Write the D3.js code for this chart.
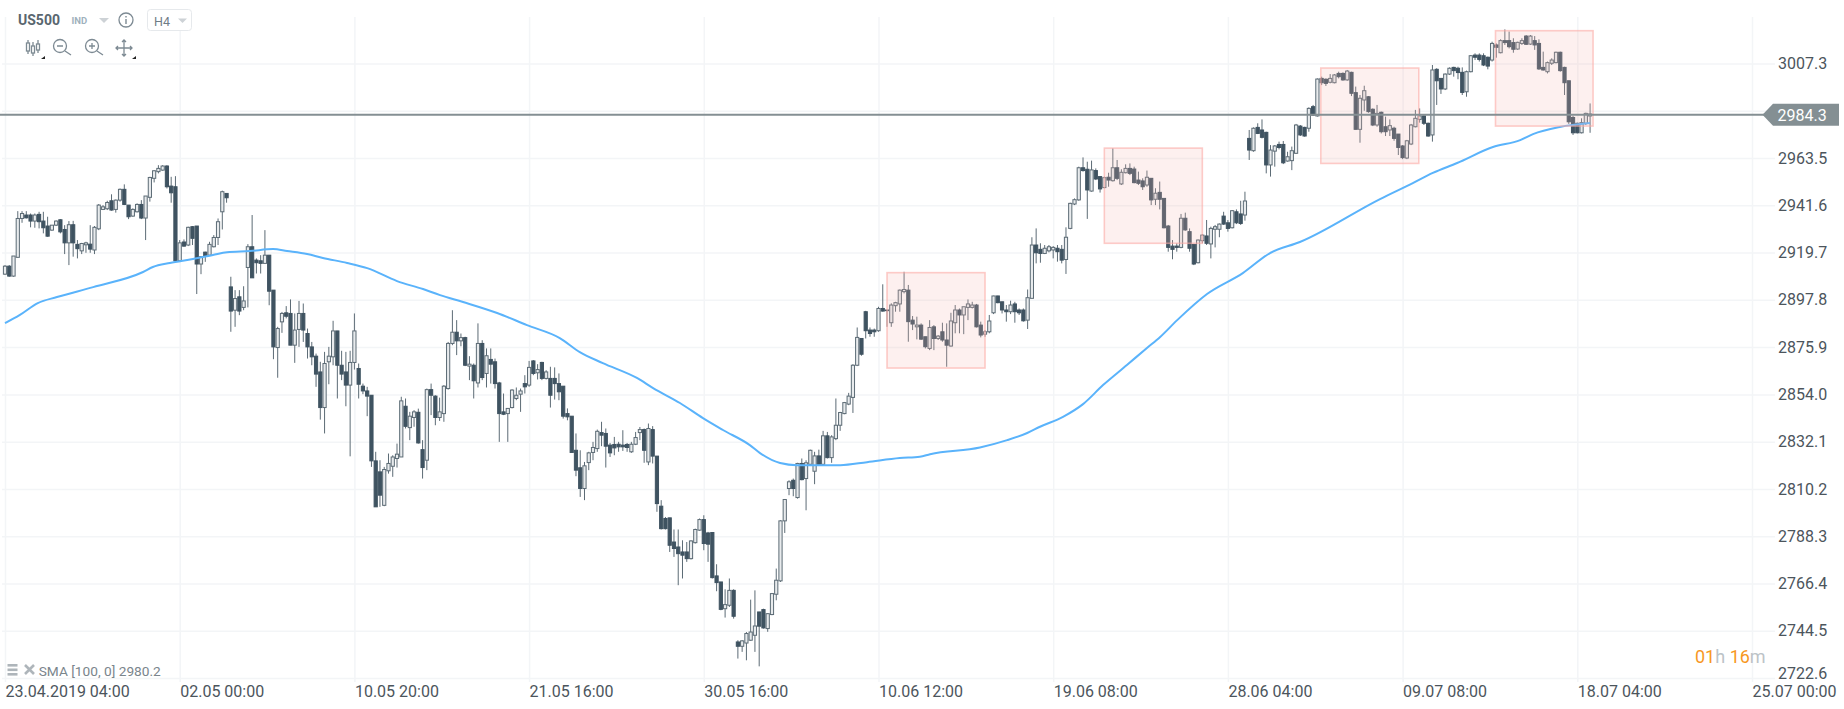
<!DOCTYPE html>
<html>
<head>
<meta charset="utf-8">
<title>US500 H4</title>
<script src="https://cdn.jsdelivr.net/npm/d3@7"></script>
<style>
    html, body { margin: 0; padding: 0; background: #fff; overflow: hidden; }
    text { font-family: Roboto, sans-serif; }
</style>
</head>
<body>
<svg id="chart" width="1844" height="709"></svg>
<script>
// candle values, one entry per H4 bar
var opens = [
2909.7,2913.4,2908.8,2917.5,2935.5,2937.1,2937.1,2934.3,2937.4,2934.3,
2932.0,2930.1,2932.4,2934.9,2930.4,2924.2,2932.6,2923.5,2920.5,2923.3,
2923.6,2920.9,2930.7,2939.7,2940.0,2943.7,2939.7,2944.0,2949.0,2941.7,
2936.6,2938.6,2942.0,2935.7,2945.3,2954.1,2957.2,2957.9,2959.8,2950.5,
2950.2,2915.9,2924.6,2923.2,2931.7,2932.0,2914.4,2919.9,2918.5,2922.4,
2926.7,2938.6,2947.1,2903.8,2893.0,2899.2,2894.3,2912.8,2922.4,2916.2,
2915.9,2914.7,2918.5,2902.3,2875.7,2887.6,2891.8,2891.5,2876.8,2884.1,
2891.5,2882.2,2876.0,2871.7,2864.4,2847.9,2869.1,2871.4,2883.4,2867.5,
2864.4,2858.3,2868.8,2866.0,2857.8,2855.6,2853.6,2823.2,2818.1,2802.6,
2818.6,2820.7,2824.3,2825.0,2848.5,2838.6,2843.3,2845.7,2828.4,2823.5,
2856.2,2853.2,2843.3,2845.1,2856.7,2877.6,2882.8,2878.8,2880.3,2867.1,
2867.5,2859.3,2877.6,2863.7,2870.2,2869.1,2859.3,2845.9,2845.1,2847.9,
2852.1,2854.1,2859.0,2858.3,2869.5,2864.0,2868.8,2861.4,2861.4,2861.4,
2859.0,2857.8,2845.1,2843.9,2828.1,2820.0,2810.4,2822.4,2827.1,2828.9,
2836.3,2835.9,2830.5,2830.8,2830.9,2830.5,2830.8,2827.4,2830.9,2836.3,
2837.7,2822.7,2837.7,2825.4,2802.2,2796.5,2796.8,2785.6,2783.3,2781.0,
2781.0,2777.9,2785.3,2791.1,2796.0,2789.8,2790.0,2769.9,2767.1,2754.7,
2756.3,2763.2,2739.3,2737.3,2738.8,2740.1,2742.4,2753.2,2754.3,2745.5,
2752.0,2761.4,2767.6,2795.4,2810.4,2814.2,2806.2,2822.0,2815.0,2821.6,
2818.4,2825.5,2821.6,2834.8,2824.7,2833.5,2839.7,2845.1,2849.5,2852.6,
2867.5,2879.9,2892.3,2883.8,2883.8,2883.5,2893.8,2893.1,2887.2,2895.1,
2895.9,2901.6,2902.3,2888.4,2885.3,2886.1,2880.7,2875.3,2885.3,2879.9,
2883.0,2879.2,2876.4,2887.2,2893.1,2890.8,2894.3,2894.3,2895.4,2886.1,
2881.9,2883.0,2891.8,2899.6,2896.9,2893.1,2892.3,2895.9,2893.1,2893.1,
2888.4,2898.5,2923.2,2921.2,2919.3,2920.5,2920.9,2921.7,2921.2,2916.5,
2930.9,2942.2,2944.1,2959.0,2958.3,2948.2,2957.7,2954.9,2949.8,2954.6,
2953.0,2959.0,2951.5,2956.7,2958.7,2958.4,2953.3,2952.9,2951.0,2954.1,
2944.4,2947.6,2944.8,2932.0,2922.7,2922.7,2922.1,2935.6,2929.4,2923.5,
2915.0,2925.2,2927.4,2923.7,2930.5,2930.5,2936.6,2933.5,2931.2,2938.6,
2937.6,2937.1,2972.6,2966.9,2977.7,2976.5,2975.4,2960.3,2966.7,2969.8,
2969.8,2962.1,2962.3,2965.7,2978.3,2977.7,2977.3,2987.3,2983.0,3000.4,
3000.0,2998.6,2998.4,3002.7,3002.7,2999.7,3003.2,2993.8,2976.8,2990.4,
2991.9,2986.1,2978.8,2984.7,2978.0,2976.5,2977.3,2974.6,2969.1,2963.5,
2970.0,2978.0,2981.4,2983.0,2979.6,2974.2,3004.6,3000.4,2995.5,3002.4,
3005.5,3005.1,3003.2,2994.2,3003.5,3011.2,3011.2,3010.9,3010.2,3008.9,
3015.9,3012.3,3017.9,3017.9,3017.0,3014.0,3016.6,3020.0,3016.3,3017.9,
3016.6,3005.5,3003.5,3007.4,3007.7,3012.5,3005.5,2999.3,2982.3,2979.6,
2975.2,2979.6,2983.0];
var highs = [
2913.9,2913.9,2918.1,2938.9,2938.9,2938.9,2937.8,2937.8,2938.6,2938.6,
2936.3,2932.4,2934.6,2935.2,2932.4,2934.3,2934.4,2925.5,2924.2,2924.7,
2932.4,2932.0,2942.2,2941.7,2943.7,2946.7,2944.3,2949.4,2951.3,2941.7,
2940.2,2942.5,2944.0,2945.9,2954.8,2957.9,2960.2,2960.2,2960.2,2954.8,
2955.1,2925.5,2925.8,2931.7,2932.0,2932.0,2918.1,2920.1,2924.7,2927.8,
2935.5,2948.4,2947.1,2908.5,2902.3,2902.3,2904.1,2923.6,2937.1,2917.0,
2918.5,2930.1,2918.5,2902.3,2885.3,2892.2,2894.9,2898.0,2891.5,2897.3,
2896.1,2884.5,2878.3,2872.9,2869.1,2873.7,2876.0,2888.1,2883.4,2874.2,
2873.7,2874.2,2891.5,2868.3,2859.0,2857.5,2853.6,2827.4,2823.5,2820.4,
2826.6,2825.8,2831.2,2852.9,2852.1,2845.9,2846.7,2847.4,2832.8,2856.7,
2859.0,2853.6,2852.5,2858.3,2878.3,2893.0,2888.4,2882.2,2880.7,2871.7,
2868.3,2886.9,2879.1,2875.3,2875.3,2870.6,2859.8,2854.4,2847.5,2856.4,
2857.2,2856.7,2862.9,2869.5,2869.9,2868.0,2869.1,2865.2,2866.8,2866.5,
2863.7,2857.8,2847.5,2843.9,2835.9,2828.1,2822.7,2827.4,2832.0,2837.7,
2841.3,2838.2,2831.5,2834.3,2832.0,2837.4,2831.5,2832.0,2836.6,2838.9,
2838.2,2840.5,2839.3,2825.4,2805.0,2797.2,2796.8,2791.4,2791.4,2786.4,
2785.6,2786.4,2791.8,2796.5,2798.0,2790.3,2790.0,2775.3,2767.1,2763.7,
2768.7,2763.7,2740.1,2740.1,2743.9,2758.9,2763.2,2753.2,2754.7,2752.7,
2762.0,2773.3,2795.7,2805.3,2814.2,2815.0,2822.3,2824.3,2823.5,2828.4,
2827.4,2828.4,2837.1,2836.6,2835.1,2852.1,2845.9,2850.5,2854.7,2868.0,
2885.0,2879.9,2892.7,2885.0,2884.5,2894.6,2905.0,2893.1,2896.2,2896.9,
2902.6,2910.8,2904.7,2890.3,2890.0,2886.9,2880.7,2888.4,2886.1,2881.5,
2887.2,2886.9,2891.8,2895.4,2893.8,2894.6,2898.0,2896.9,2895.9,2887.7,
2883.8,2890.8,2899.7,2899.7,2896.9,2895.4,2897.4,2896.9,2893.8,2893.8,
2902.6,2926.8,2930.9,2924.0,2923.2,2923.2,2922.7,2923.2,2923.2,2931.4,
2942.8,2944.8,2959.5,2963.8,2961.8,2962.3,2958.7,2954.9,2954.9,2956.7,
2968.0,2962.6,2958.3,2960.6,2961.0,2959.5,2957.2,2954.1,2957.7,2954.1,
2949.5,2952.6,2944.8,2932.5,2925.5,2924.0,2937.6,2938.2,2930.9,2923.7,
2925.8,2928.3,2934.8,2931.7,2932.5,2933.2,2938.6,2934.8,2939.4,2939.7,
2943.7,2947.9,2976.5,2977.7,2979.6,2981.4,2975.7,2969.5,2969.5,2971.1,
2971.4,2966.4,2968.8,2979.3,2978.8,2978.0,2987.0,2988.1,3000.4,3001.2,
3000.4,3002.4,3002.4,3003.5,3003.2,3004.3,3003.5,2996.6,2992.7,2997.0,
2992.2,2986.5,2988.1,2985.0,2982.7,2981.4,2978.0,2974.6,2969.5,2971.9,
2979.3,2985.8,2986.5,2983.3,2979.9,3006.6,3005.1,3000.4,3002.7,3005.5,
3005.8,3005.8,3005.5,3004.0,3011.2,3012.0,3012.0,3012.0,3010.5,3017.4,
3016.6,3018.5,3023.1,3022.1,3019.0,3017.4,3019.0,3020.5,3020.5,3020.0,
3018.5,3012.8,3008.2,3009.7,3012.8,3012.8,3005.8,2999.3,2983.0,2979.9,
2981.9,2984.5,2988.8];
var lows = [
2909.4,2908.5,2908.5,2917.5,2933.5,2935.5,2931.4,2931.2,2930.9,2928.6,
2927.0,2929.8,2932.0,2928.6,2919.0,2913.9,2917.8,2917.0,2919.0,2919.6,
2919.6,2919.0,2930.1,2939.4,2939.4,2939.1,2938.2,2943.3,2941.7,2935.2,
2936.3,2938.3,2935.2,2925.5,2943.3,2952.2,2956.4,2957.6,2949.4,2942.8,
2915.9,2915.4,2922.4,2922.7,2923.2,2900.5,2909.7,2915.4,2918.1,2922.1,
2923.2,2930.4,2942.8,2883.0,2885.3,2890.7,2893.0,2894.3,2908.0,2910.0,
2910.0,2914.7,2895.3,2870.3,2861.7,2882.5,2889.2,2876.8,2868.6,2876.0,
2878.3,2870.6,2867.5,2857.5,2842.3,2835.9,2858.7,2867.5,2852.1,2860.6,
2848.5,2825.3,2865.5,2852.1,2854.1,2843.9,2820.4,2801.9,2801.9,2802.2,
2817.3,2815.8,2820.1,2825.0,2838.2,2832.8,2839.0,2831.2,2815.0,2818.9,
2844.4,2839.7,2841.7,2841.3,2856.2,2876.8,2872.2,2876.3,2867.1,2860.6,
2852.1,2857.2,2860.6,2857.2,2859.0,2856.7,2832.0,2844.4,2832.0,2847.5,
2851.3,2845.9,2854.4,2857.5,2862.9,2860.9,2860.6,2860.9,2847.9,2851.6,
2851.3,2842.8,2842.0,2827.1,2816.1,2806.5,2805.0,2818.9,2823.5,2827.4,
2830.0,2820.1,2825.0,2825.8,2827.4,2827.8,2827.4,2826.9,2830.5,2832.8,
2822.3,2821.2,2822.0,2799.6,2791.4,2791.4,2781.0,2778.7,2765.6,2768.7,
2776.4,2777.5,2784.9,2790.8,2781.8,2776.4,2768.7,2762.8,2754.0,2750.6,
2755.5,2750.1,2731.6,2734.7,2730.8,2739.8,2734.7,2728.0,2745.5,2744.0,
2751.7,2758.6,2767.1,2789.8,2807.3,2806.8,2805.7,2814.2,2800.3,2821.2,
2812.4,2821.2,2821.2,2824.3,2822.3,2832.8,2837.1,2844.8,2849.0,2845.4,
2867.1,2871.9,2879.9,2880.7,2880.7,2883.0,2892.3,2885.3,2885.3,2892.3,
2892.3,2900.8,2878.4,2883.8,2879.5,2879.2,2875.3,2874.5,2874.5,2879.2,
2878.4,2866.8,2876.1,2882.3,2882.3,2881.9,2888.4,2893.8,2885.0,2880.4,
2880.7,2882.3,2891.2,2896.2,2891.5,2887.7,2891.2,2887.2,2890.8,2887.7,
2884.3,2898.5,2914.7,2915.0,2919.0,2919.8,2917.0,2915.5,2914.7,2909.8,
2930.5,2941.7,2943.7,2957.2,2935.3,2947.9,2953.3,2947.5,2949.5,2950.2,
2952.6,2953.3,2951.0,2956.4,2955.6,2951.8,2951.0,2948.7,2950.2,2941.7,
2941.7,2939.7,2930.9,2920.1,2916.6,2920.1,2921.7,2929.8,2920.1,2913.9,
2914.7,2924.0,2923.2,2917.0,2922.1,2926.8,2932.5,2929.4,2930.9,2932.9,
2932.5,2934.5,2962.6,2966.4,2974.6,2972.6,2956.4,2954.9,2959.5,2967.5,
2960.7,2961.8,2957.9,2965.4,2973.7,2973.4,2975.7,2983.0,2982.7,2997.3,
2996.9,2998.1,2998.1,3000.4,2999.3,2999.3,2992.2,2976.8,2970.6,2985.4,
2984.5,2978.3,2978.0,2974.9,2973.7,2973.7,2971.5,2964.9,2963.0,2963.0,
2969.5,2977.7,2979.9,2978.8,2973.4,2971.1,2988.1,2993.2,2995.0,3002.0,
3001.2,3000.0,2992.7,2991.9,3003.2,3008.9,3008.2,3006.1,3004.6,3008.2,
3010.0,3012.0,3015.9,3014.3,3012.3,3013.6,3015.9,3015.9,3015.9,3013.6,
3004.3,3004.0,3002.7,3006.6,3007.4,3003.5,2992.7,2979.3,2974.2,2974.9,
2974.9,2978.8,2975.2];
var closes = [
2913.4,2908.8,2918.1,2935.5,2937.8,2935.8,2934.3,2937.1,2934.0,2931.2,
2927.3,2932.4,2934.3,2929.3,2924.2,2932.6,2924.2,2921.5,2923.9,2924.2,
2921.3,2931.4,2941.7,2940.9,2942.9,2939.4,2944.0,2949.0,2942.0,2936.3,
2939.7,2942.0,2935.7,2945.9,2954.5,2957.6,2958.7,2959.8,2950.2,2947.4,
2915.9,2924.2,2922.7,2931.4,2926.3,2914.4,2917.8,2918.1,2923.5,2926.7,
2934.0,2947.9,2945.1,2892.6,2898.4,2892.6,2897.3,2922.4,2908.0,2915.0,
2914.7,2918.5,2901.8,2876.0,2884.5,2891.5,2890.2,2876.8,2883.8,2891.5,
2883.8,2876.0,2871.4,2863.4,2847.9,2868.3,2871.7,2883.4,2867.5,2863.4,
2858.3,2868.8,2883.4,2858.7,2855.6,2853.2,2823.2,2801.9,2807.3,2819.2,
2822.0,2825.0,2826.3,2851.0,2839.2,2843.9,2845.9,2831.5,2820.1,2856.2,
2853.6,2843.3,2845.9,2857.8,2877.6,2882.8,2878.8,2880.3,2867.5,2868.0,
2860.3,2877.6,2861.8,2871.9,2868.0,2859.0,2845.1,2844.8,2847.5,2856.0,
2853.6,2855.6,2857.5,2866.5,2863.7,2865.5,2861.4,2864.4,2853.6,2859.0,
2855.2,2843.9,2843.6,2827.1,2818.9,2810.4,2820.9,2826.9,2829.4,2836.9,
2835.1,2830.0,2826.9,2829.2,2829.7,2829.7,2829.4,2830.9,2834.0,2837.7,
2828.1,2838.2,2825.4,2803.4,2791.8,2791.8,2784.1,2782.6,2780.2,2779.5,
2777.9,2786.1,2791.4,2796.0,2784.9,2784.6,2769.1,2766.8,2754.4,2756.6,
2763.2,2751.2,2737.3,2739.8,2743.2,2743.9,2746.7,2746.6,2745.8,2752.4,
2761.7,2767.9,2795.4,2805.3,2813.5,2810.4,2822.0,2814.5,2822.3,2828.1,
2825.5,2821.6,2834.8,2824.7,2834.3,2839.7,2845.6,2850.2,2853.2,2867.5,
2880.4,2872.6,2883.5,2882.2,2883.0,2893.8,2892.6,2892.8,2895.4,2896.5,
2902.3,2902.6,2887.7,2886.6,2886.1,2879.6,2876.1,2885.0,2879.9,2881.0,
2879.2,2876.8,2888.0,2893.1,2890.8,2894.6,2895.9,2895.4,2885.3,2881.5,
2883.0,2888.0,2899.6,2896.5,2893.1,2892.3,2895.4,2892.3,2891.8,2888.1,
2898.8,2923.2,2919.6,2919.3,2921.7,2922.4,2922.1,2920.1,2916.2,2926.8,
2942.5,2944.2,2959.0,2957.7,2948.7,2958.0,2953.8,2949.2,2954.4,2953.3,
2959.0,2954.1,2956.9,2958.7,2956.4,2952.1,2951.8,2950.2,2954.6,2944.1,
2947.2,2944.4,2931.2,2922.1,2921.2,2922.1,2935.6,2930.2,2921.7,2914.4,
2925.5,2927.8,2924.0,2930.9,2931.7,2932.9,2932.9,2930.9,2939.1,2933.5,
2933.2,2943.6,2967.2,2977.3,2974.9,2973.1,2960.3,2967.2,2969.1,2968.4,
2961.3,2964.1,2966.9,2978.8,2974.2,2973.7,2986.5,2983.4,3000.1,2998.4,
2998.1,3000.4,3002.0,3001.2,2999.7,3003.8,2993.5,2976.8,2991.2,2994.7,
2985.0,2978.8,2984.2,2975.7,2975.7,2978.5,2972.6,2968.4,2963.7,2971.5,
2978.8,2981.9,2983.0,2979.6,2973.7,3004.3,2999.3,2995.5,3002.4,3005.1,
3004.0,3003.1,2993.9,3003.5,3010.9,3010.2,3009.2,3006.6,3006.1,3016.6,
3014.8,3017.9,3017.0,3015.1,3013.9,3017.1,3017.9,3016.2,3020.0,3015.9,
3004.8,3004.3,3007.7,3008.9,3012.5,3004.0,2998.4,2980.3,2975.2,2975.2,
2979.9,2984.2,2983.9];

// SMA [100, 0] read at the bends of the line: bar number, then level
var smaBars = [0,3.5,7.7,12.2,20.7,32.4,34.7,38.7,44.1,48.8,52.1,57.5,62.9,66.2,70.9,74.6,80.3,85,92,98.1,102.1,107.5,115.5,122.5,130.2,134.9,140.3,148.3,152.1,158.4,163.8,168.5,174.8,177.2,181.9,185.9,196,202.3,210,214.7,217.1,228.8,235.2,239.9,242.9,248.3,253,257.7,263.3,268,271.1,275.1,282.1,290.5,296.9,303.9,322.7,330.4,335.1,340.8,349.2,355.6,358.6,364.9,372];
var smaValues = [2887.0,2890.8,2896.3,2899.1,2903.7,2910.7,2913.0,2914.9,2916.7,2918.6,2919.9,2920.4,2921.3,2920.4,2919.0,2917.2,2914.9,2912.5,2906.5,2902.8,2900.0,2896.8,2891.7,2886.1,2880.1,2873.6,2868.5,2861.6,2856.9,2850.0,2843.0,2837.5,2830.5,2826.8,2822.2,2821.2,2821.2,2822.6,2824.5,2825.1,2826.3,2829.4,2832.8,2836.1,2839.0,2843.6,2849.5,2858.3,2867.6,2875.5,2880.6,2888.4,2900.5,2910.2,2919.5,2924.6,2944.5,2951.9,2956.6,2961.2,2968.6,2971.8,2974.6,2977.9,2979.7];

// the four shaded boxes
var boxStart = [207, 258, 308.8, 349.8];
var boxEnd = [230, 281, 331.8, 372.7];
var boxHigh = [2910.4, 2968.1, 3005.2, 3022.5];
var boxLow = [2866.2, 2924.0, 2961.0, 2978.3];

var priceTicks = [3007.3, 2985.4, 2963.5, 2941.6, 2919.7, 2897.8, 2875.9, 2854.0, 2832.1, 2810.2, 2788.3, 2766.4, 2744.5, 2722.6];
var hiddenPriceTick = 2985.4; // sits behind the current price flag
var bottomPriceTick = 2722.6; // label is lifted clear of the time axis
var dateTickBars = [0, 41, 82, 123, 164, 205, 246, 287, 328, 369, 410];
var dateTickLabels = ["23.04.2019 04:00", "02.05 00:00", "10.05 20:00", "21.05 16:00", "30.05 16:00", "10.06 12:00", "19.06 08:00", "28.06 04:00", "09.07 08:00", "18.07 04:00", "25.07 00:00"];

var priceLine = 2983.5;
var priceLabel = "2984.3";

var svg = d3.select("#chart");

var xScale = d3.scaleLinear().domain([0, 410]).range([5, 1752]);
var yScale = d3.scaleLinear().domain([2722.6, 3007.3]).range([678, 63.5]);

var gridColor = "#f3f5f7";
var textColor = "#4c555c";
var darkCandle = "#3f5361";
var candleEdge = "#5c6b75";

// price axis, its ticks double as the horizontal grid
var yAxis = d3.axisRight(yScale)
    .tickValues(priceTicks)
    .tickSizeInner(-1773)
    .tickSizeOuter(0)
    .tickPadding(3)
    .tickFormat(d => d === hiddenPriceTick ? "" : d.toFixed(1));

svg.append("g")
    .attr("class", "y-axis")
    .attr("transform", "translate(1775,0)")
    .call(yAxis)
    .call(g => g.select(".domain").remove())
    .call(g => g.selectAll("line").attr("stroke", gridColor).attr("stroke-width", 1.5))
    .call(g => g.selectAll("text")
        .attr("fill", textColor)
        .attr("y", d => d === bottomPriceTick ? -5 : 0)
        .style("font-size", "16px"));

// time axis, same for the vertical grid
var xAxis = d3.axisBottom(xScale)
    .tickValues(dateTickBars)
    .tickSizeInner(-665)
    .tickSizeOuter(0)
    .tickPadding(3.5)
    .tickFormat((d, i) => dateTickLabels[i]);

svg.append("g")
    .attr("class", "x-axis")
    .attr("transform", "translate(0,682)")
    .call(xAxis)
    .call(g => g.select(".domain").remove())
    .call(g => g.selectAll("line").attr("stroke", gridColor).attr("stroke-width", 1.5))
    .call(g => g.selectAll("text").attr("fill", textColor).attr("text-anchor", "start").style("font-size", "16px"));

// candles
var candleData = d3.range(opens.length);
var candles = svg.append("g")
    .attr("class", "candles")
    .style("filter", "blur(0.45px)");

candles.selectAll("line")
    .data(candleData)
    .join("line")
    .attr("x1", i => xScale(i))
    .attr("x2", i => xScale(i))
    .attr("y1", i => yScale(highs[i]))
    .attr("y2", i => yScale(lows[i]))
    .attr("stroke", candleEdge)
    .attr("stroke-width", 1);

candles.selectAll("rect")
    .data(candleData)
    .join("rect")
    .attr("x", i => xScale(i) - 1.6)
    .attr("width", 3.2)
    .attr("y", i => yScale(Math.max(opens[i], closes[i])))
    .attr("height", i => Math.abs(yScale(opens[i]) - yScale(closes[i])))
    .attr("fill", i => closes[i] >= opens[i] ? "#e8ebed" : darkCandle)
    .attr("stroke", i => closes[i] >= opens[i] ? candleEdge : darkCandle)
    .attr("stroke-width", 1);

// moving average
var smaLine = d3.line()
    .x(d => xScale(d))
    .y((d, i) => yScale(smaValues[i]))
    .curve(d3.curveMonotoneX);

svg.append("path")
    .datum(smaBars)
    .attr("class", "sma")
    .attr("fill", "none")
    .attr("stroke", "#5ab3fb")
    .attr("stroke-width", 2)
    .attr("d", smaLine);

// shaded boxes sit over the candles
svg.append("g")
    .attr("class", "boxes")
    .selectAll("rect")
    .data(boxStart)
    .join("rect")
    .attr("x", d => xScale(d))
    .attr("y", (d, i) => yScale(boxHigh[i]))
    .attr("width", (d, i) => xScale(boxEnd[i]) - xScale(d))
    .attr("height", (d, i) => yScale(boxLow[i]) - yScale(boxHigh[i]))
    .attr("fill", "rgba(245,180,175,0.2)")
    .attr("stroke", "rgba(252,170,165,0.6)")
    .attr("stroke-width", 1.6);

// current price line and flag
var priceY = yScale(priceLine);
svg.append("line")
    .attr("x1", 0)
    .attr("x2", 1764)
    .attr("y1", priceY)
    .attr("y2", priceY)
    .attr("stroke", "#848f93")
    .attr("stroke-width", 2);

svg.append("polygon")
    .attr("points", [[1762.5, priceY], [1773, priceY - 11], [1839, priceY - 11], [1839, priceY + 11], [1773, priceY + 11]].join(" "))
    .attr("fill", "#848f93");

svg.append("text")
    .attr("x", 1777.5)
    .attr("y", priceY + 5.7)
    .attr("fill", "#fff")
    .style("font-size", "16px")
    .text(priceLabel);

// header: symbol, type, interval
var header = svg.append("g").attr("class", "header");

header.append("text").attr("x", 18).attr("y", 25).attr("fill", "#59666f")
    .style("font-size", "14px").style("font-weight", 700).text("US500");
header.append("text").attr("x", 71.5).attr("y", 23.5).attr("fill", "#9fb1bd")
    .style("font-size", "9.5px").style("font-weight", 700).text("IND");
header.append("path").attr("d", "M99,18 L109,18 L104,23 Z").attr("fill", "#cdd2d6");
header.append("circle").attr("cx", 126).attr("cy", 20).attr("r", 7)
    .attr("fill", "none").attr("stroke", "#7d8a93").attr("stroke-width", 1.3);
header.append("path").attr("d", "M126,19 V24 M126,16 V17.5").attr("stroke", "#7d8a93").attr("stroke-width", 1.4);
header.append("rect").attr("x", 147.5).attr("y", 9.5).attr("width", 44).attr("height", 21).attr("rx", 3)
    .attr("fill", "#fff").attr("stroke", "#e6e9ec");
header.append("text").attr("x", 154).attr("y", 25.5).attr("fill", "#6f7c86")
    .style("font-size", "12.5px").text("H4");
header.append("path").attr("d", "M178,18.5 L187,18.5 L182.5,23 Z").attr("fill", "#cdd2d6");

// toolbar icons
var tools = svg.append("g").attr("class", "tools")
    .attr("fill", "none").attr("stroke", "#7d8a93").attr("stroke-width", 1.3);
tools.append("path").attr("d", "M28,40 V54 M33,42 V56 M38,40 V53");
tools.selectAll("rect")
    .data([[26.5, 43, 8], [31.5, 46, 7], [36.5, 44, 6]])
    .join("rect")
    .attr("x", d => d[0]).attr("y", d => d[1]).attr("width", 3).attr("height", d => d[2])
    .attr("fill", "#fff");
tools.append("circle").attr("cx", 60).attr("cy", 46).attr("r", 6.5);
tools.append("path").attr("d", "M57,46 H63 M65,51 L71,55");
tools.append("circle").attr("cx", 92).attr("cy", 46).attr("r", 6.5);
tools.append("path").attr("d", "M89,46 H95 M92,43 V49 M97,51 L103,55");
tools.append("path").attr("d", "M116,48 H132 M124,40 V56 M122,42 L124,40 L126,42 M122,54 L124,56 L126,54 M118,46 L116,48 L118,50 M130,46 L132,48 L130,50");
svg.append("path").attr("d", "M41,59 L45,59 L45,56 Z").attr("fill", "#222");
svg.append("path").attr("d", "M132,59 L136,59 L136,56 Z").attr("fill", "#222");

// indicator legend
var legend = svg.append("g").attr("class", "legend");
legend.selectAll("rect")
    .data([664, 668.5, 673])
    .join("rect")
    .attr("x", 7.5).attr("y", d => d).attr("width", 10).attr("height", 2.6).attr("fill", "#aeb5ba");
legend.append("path").attr("d", "M25,665 L34,674 M34,665 L25,674")
    .attr("stroke", "#aeb5ba").attr("stroke-width", 2.6);
legend.append("text").attr("x", 38.7).attr("y", 675.5).attr("fill", "#7a858c")
    .style("font-size", "13.7px").text("SMA [100, 0] 2980.2");

// time left on the current bar
var countdown = svg.append("text").attr("x", 1695).attr("y", 662.5).style("font-size", "18px");
countdown.append("tspan").attr("fill", "#f7981f").text("01");
countdown.append("tspan").attr("fill", "#bcc3c7").text("h ");
countdown.append("tspan").attr("fill", "#f7981f").text("16");
countdown.append("tspan").attr("fill", "#bcc3c7").text("m");
</script>
</body>
</html>
